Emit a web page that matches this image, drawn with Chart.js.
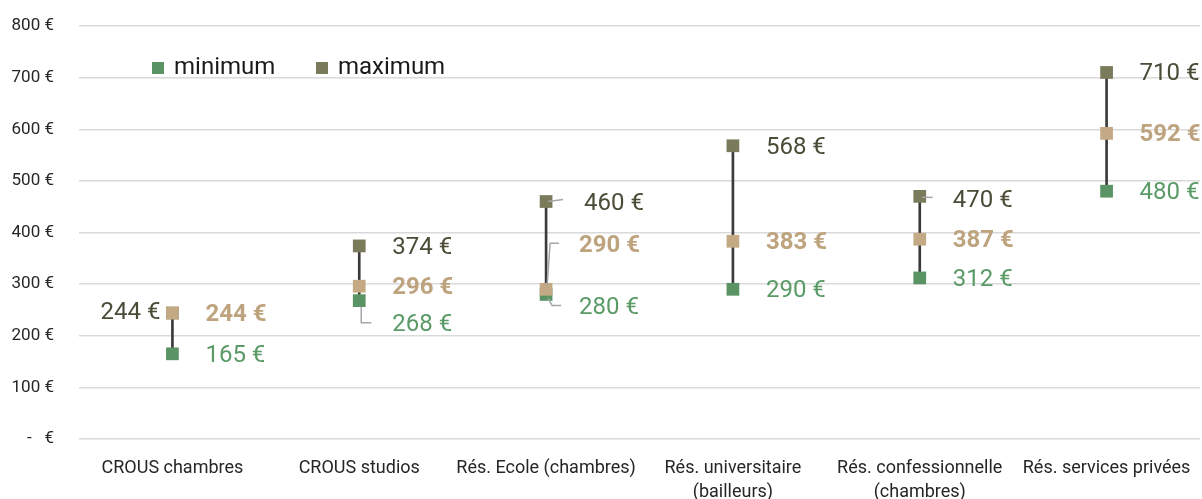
<!DOCTYPE html>
<html>
<head>
<meta charset="utf-8">
<script src="https://cdn.jsdelivr.net/npm/chart.js@4.4.6/dist/chart.umd.js"></script>
<style>
  html, body { margin: 0; background: #fff; }
  #wrap { width: 1202px; height: 499px; }
</style>
</head>
<body>
<div id="wrap"><canvas id="chart"></canvas></div>
<script>
const categories = [
  'CROUS chambres',
  'CROUS studios',
  'Rés. Ecole (chambres)',
  ['Rés. universitaire', '(bailleurs)'],
  ['Rés. confessionnelle', '(chambres)'],
  'Rés. services privées'
];
const minValues = [165, 268, 280, 290, 312, 480];
const maxValues = [244, 374, 460, 568, 470, 710];
const avgValues = [244, 296, 290, 383, 387, 592];
const yTickMin = 0;
const yTickMax = 800;
const yTickStep = 100;

const FONT = 'Roboto, "Noto Sans", sans-serif';
const cGreen = '#5a9464';
const cOlive = '#7a7b5a';
const cTan = '#c4aa84';
const cLabelGreen = '#5a9a66';
const cLabelOlive = '#4b4b38';
const cLabelTan = '#bea37f';

const fmt = (v) => `${v} €`;

// label placement per dataset (1 = min, 2 = max, 3 = avg), relative to the point
const labelStyle = {
  1: { color: cLabelGreen, weight: '400', tweaks: {
    1: { dy: 22, leader: [[2, 6], [2, 22], [12, 22]] },
    2: { dy: 12, leader: [[2, 4], [6, 11], [15, 11]] }
  } },
  2: { color: cLabelOlive, weight: '400', tweaks: {
    0: { dx: -12, dy: -2, align: 'right' },
    2: { dx: 38, dy: 0, leader: [[2, 0], [17, -2]] },
    4: { dy: 3, leader: [[2, 1], [13, 1]] }
  } },
  3: { color: cLabelTan, weight: '700', tweaks: {
    2: { dy: -45, leader: [[1, -3], [4, -46], [13, -46]] }
  } }
};

const valueLabels = {
  id: 'valueLabels',
  afterDatasetsDraw(chart) {
    const { ctx } = chart;
    ctx.save();
    Object.keys(labelStyle).forEach((key) => {
      const dsIndex = Number(key);
      const style = labelStyle[dsIndex];
      const meta = chart.getDatasetMeta(dsIndex);
      const data = chart.data.datasets[dsIndex].data;
      meta.data.forEach((pt, i) => {
        const t = style.tweaks[i] || {};
        const dx = t.dx ?? 33;
        const dy = (t.dy ?? 0) + 2;
        if (t.leader) {
          ctx.strokeStyle = '#a6a6a6';
          ctx.lineWidth = 1.5;
          ctx.beginPath();
          t.leader.forEach(([lx, ly], k) => {
            if (k === 0) ctx.moveTo(pt.x + lx, pt.y + ly);
            else ctx.lineTo(pt.x + lx, pt.y + ly);
          });
          ctx.stroke();
        }
        ctx.font = `${style.weight} 24px ${FONT}`;
        ctx.fillStyle = style.color;
        ctx.textAlign = t.align || 'left';
        ctx.textBaseline = 'middle';
        ctx.fillText(fmt(data[i]), pt.x + dx, pt.y + dy);
      });
    });
    ctx.restore();
  }
};

const customLegend = {
  id: 'customLegend',
  afterDraw(chart) {
    const { ctx, chartArea } = chart;
    const items = [
      { text: 'minimum', color: cGreen, x: chartArea.left + 73 },
      { text: 'maximum', color: cOlive, x: chartArea.left + 237 }
    ];
    const y = 68;
    ctx.save();
    ctx.font = `400 24px ${FONT}`;
    ctx.textBaseline = 'middle';
    ctx.textAlign = 'left';
    items.forEach((it) => {
      ctx.fillStyle = it.color;
      ctx.fillRect(it.x, y - 6, 12, 12);
      ctx.fillStyle = '#1a1a1a';
      ctx.fillText(it.text, it.x + 22, y);
    });
    ctx.restore();
  }
};

// lower order is drawn on top
const pointSet = (label, values, color, order) => ({
  type: 'line',
  label,
  data: values,
  showLine: false,
  pointStyle: 'rect',
  pointRadius: 9,
  pointHoverRadius: 9,
  pointBorderWidth: 0,
  pointBackgroundColor: color,
  borderColor: color,
  order
});

new Chart(document.getElementById('chart'), {
  type: 'bar',
  data: {
    labels: categories,
    datasets: [
      {
        label: 'range',
        data: minValues.map((v, i) => [v, maxValues[i]]),
        backgroundColor: '#3a3a3a',
        barThickness: 2,
        order: 10
      },
      pointSet('minimum', minValues, cGreen, 2),
      pointSet('maximum', maxValues, cOlive, 3),
      pointSet('moyenne', avgValues, cTan, 1)
    ]
  },
  options: {
    responsive: true,
    maintainAspectRatio: false,
    animation: false,
    layout: { autoPadding: false, padding: { top: 26, right: 2, bottom: 0, left: 0 } },
    scales: {
      x: {
        grid: { display: false },
        border: { display: false },
        ticks: {
          autoSkip: false,
          maxRotation: 0,
          padding: 10,
          color: '#262626',
          font: { family: FONT, size: 18, lineHeight: 1.33 }
        },
        afterFit: (scale) => { scale.height = 60; }
      },
      y: {
        min: yTickMin,
        max: yTickMax,
        ticks: {
          stepSize: yTickStep,
          padding: 0,
          color: '#262626',
          font: { family: FONT, size: 17 },
          callback: (v) => (v === 0 ? '-   €' : fmt(v))
        },
        grid: { color: '#d9d9d9', lineWidth: 1.5, drawTicks: true, tickLength: 25, tickColor: 'rgba(0,0,0,0)' },
        border: { display: false },
        afterFit: (scale) => { scale.width = 79; }
      }
    },
    plugins: {
      legend: { display: false },
      tooltip: { enabled: false }
    }
  },
  plugins: [valueLabels, customLegend]
});
</script>
</body>
</html>
